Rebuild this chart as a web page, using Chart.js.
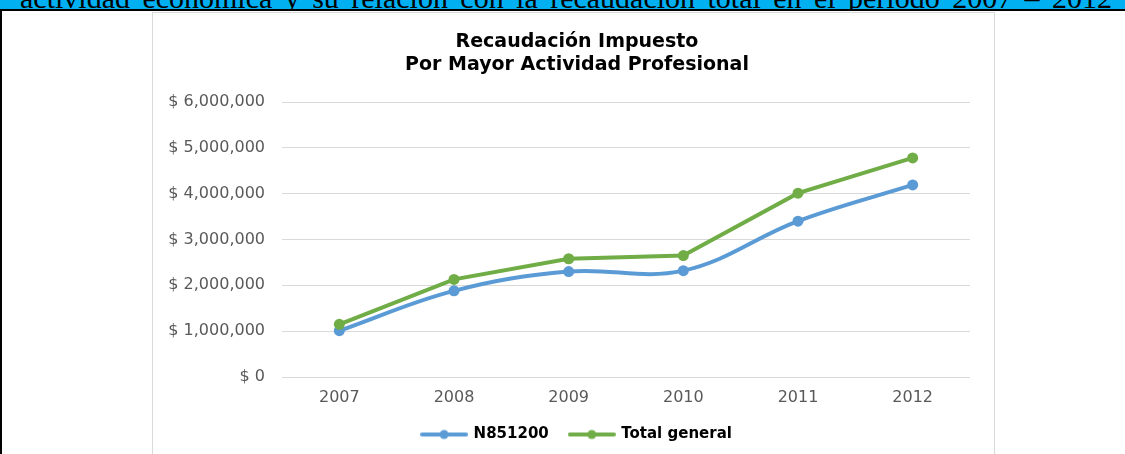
<!DOCTYPE html>
<html>
<head>
<meta charset="utf-8">
<script src="https://cdn.jsdelivr.net/npm/chart.js@4.4.0/dist/chart.umd.min.js"></script>
<style>
  html, body { margin: 0; padding: 0; background: #fff; overflow: hidden; }
  body { width: 1125px; height: 454px; position: relative; }
  #band {
    position: absolute; left: 0; top: 0; width: 1125px; height: 9px;
    background: #00b0f0; overflow: hidden;
  }
  #band div {
    position: absolute; left: 20px; top: -17px; width: 1092px;
    font: 30px/30px "Liberation Serif", "Times New Roman", serif;
    color: #000; white-space: nowrap;
    text-align: justify; text-align-last: justify;
  }
  #rule { position: absolute; left: 0; top: 9px; width: 1125px; height: 2px; background: #000; }
  #leftRule { position: absolute; left: 0; top: 9px; width: 2px; height: 445px; background: #000; }
  #frame {
    position: absolute; left: 152px; top: 12px; width: 843px; height: 470px;
    box-sizing: border-box; border: 1px solid #d9d9d9;
  }
  #chart { position: absolute; left: 152px; top: 12px; }
</style>
</head>
<body>
<div id="band"><div>actividad económica y su relación con la recaudación total en el período 2007 – 2012</div></div>
<div id="rule"></div>
<div id="leftRule"></div>
<div id="frame"></div>
<canvas id="chart" width="850" height="440"></canvas>

<script>
/* ── data ─────────────────────────────────────────────── */
const years        = ['2007', '2008', '2009', '2010', '2011', '2012'];
const seriesNames  = ['N851200', 'Total general'];
const n851200      = [1010000, 1880000, 2300000, 2320000, 3400000, 4190000];
const totalGeneral = [1150000, 2130000, 2580000, 2650000, 4010000, 4780000];
const yTickLabels  = ['$ 0', '$ 1,000,000', '$ 2,000,000', '$ 3,000,000',
                      '$ 4,000,000', '$ 5,000,000', '$ 6,000,000'];
const titleLines   = ['Recaudación Impuesto', 'Por Mayor Actividad Profesional'];

const BLUE  = '#5b9bd5';
const GREEN = '#70ad47';
const GRID  = '#d9d9d9';
const MUTED = '#595959';
const FONT  = "'DejaVu Sans', 'Liberation Sans', Arial, sans-serif";

// legend sample: line with a dot in the middle
function legendMark(color) {
  const c = document.createElement('canvas');
  c.width = 48; c.height = 12;
  const g = c.getContext('2d');
  g.strokeStyle = color;
  g.lineWidth = 4;
  g.lineCap = 'round';
  g.beginPath(); g.moveTo(2, 6); g.lineTo(46, 6); g.stroke();
  g.fillStyle = color;
  g.beginPath(); g.arc(24, 6, 4.5, 0, Math.PI * 2); g.fill();
  return c;
}
const marks = [legendMark(BLUE), legendMark(GREEN)];

new Chart(document.getElementById('chart'), {
  type: 'line',
  data: {
    labels: years,
    datasets: [
      {
        label: seriesNames[0], data: n851200, order: 1,
        borderColor: BLUE, backgroundColor: BLUE, borderWidth: 4,
        pointRadius: 5.5, pointBorderWidth: 0, pointBackgroundColor: BLUE,
        tension: 0.38, fill: false,
      },
      {
        label: seriesNames[1], data: totalGeneral, order: 0,
        borderColor: GREEN, backgroundColor: GREEN, borderWidth: 4,
        pointRadius: 5.5, pointBorderWidth: 0, pointBackgroundColor: GREEN,
        tension: 0, fill: false,
      },
    ],
  },
  options: {
    responsive: false,
    animation: false,
    layout: { padding: 0 },
    scales: {
      x: {
        offset: true,
        grid: { display: false, drawTicks: false },
        border: { display: false },
        ticks: { color: MUTED, font: { family: FONT, size: 16, lineHeight: 1 }, padding: 13, maxRotation: 0 },
        afterFit: s => { s.height = 29; },
      },
      y: {
        min: 0, max: 6000000,
        grid: { color: GRID, lineWidth: 1, drawTicks: false },
        border: { display: false },
        ticks: {
          stepSize: 1000000, padding: 17, color: MUTED,
          font: { family: FONT, size: 16 },
          callback: (v, i) => yTickLabels[i],
        },
        afterFit: s => { s.width = 130; },
      },
      // empty right-hand spacer so title and legend centre like the original
      yRight: {
        type: 'linear', position: 'right',
        grid: { display: false, drawTicks: false },
        border: { display: false },
        ticks: { display: false },
        afterFit: s => { s.width = 32; },
      },
    },
    plugins: {
      tooltip: { enabled: false },
      title: {
        display: true,
        text: titleLines,
        color: '#000',
        font: { family: FONT, size: 19, weight: 'bold', lineHeight: '23px' },
        padding: { top: 18.5, bottom: 25.5 },
      },
      legend: {
        position: 'bottom',
        labels: {
          color: '#000',
          font: { family: FONT, size: 15, weight: 'bold' },
          usePointStyle: true,
          pointStyleWidth: 44,
          padding: 21,
          generateLabels: () => seriesNames.map((name, i) => ({
            text: name,
            pointStyle: marks[i],
            fillStyle: 'transparent',
            strokeStyle: 'transparent',
            lineWidth: 0,
            fontColor: '#000',
            hidden: false,
            datasetIndex: i,
          })),
        },
      },
    },
  },
});
</script>
</body>
</html>
